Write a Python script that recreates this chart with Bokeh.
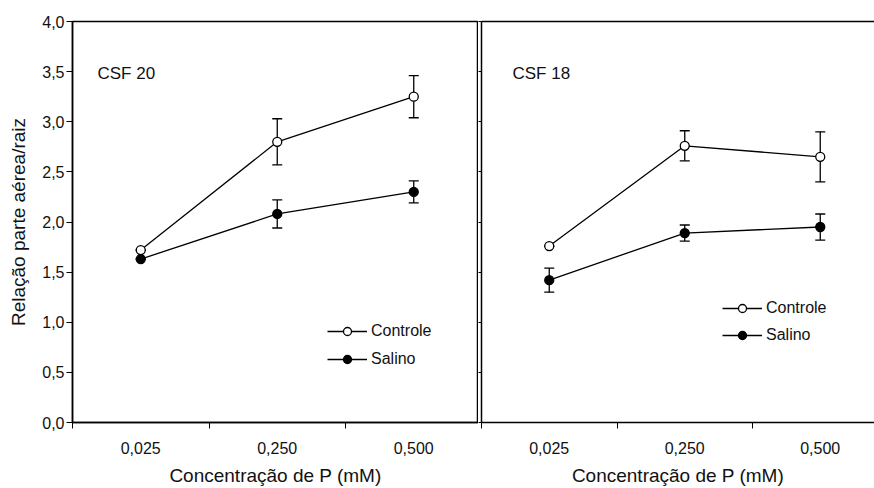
from bokeh.plotting import figure
from bokeh.layouts import row
from bokeh.models import (Range1d, FixedTicker, LinearAxis, Whisker, TeeHead,
                          ColumnDataSource, Legend, LegendItem, Label,
                          CustomLabelingPolicy)
from bokeh.embed import file_html
from bokeh.resources import INLINE

# ---------------- data ----------------
categories = ["0,025", "0,250", "0,500"]          # Concentração de P (mM)
series = ["Controle", "Salino"]

csf20_controle = [1.72, 2.80, 3.25]
csf20_controle_err = [0.0, 0.23, 0.21]
csf20_salino = [1.63, 2.08, 2.30]
csf20_salino_err = [0.0, 0.14, 0.11]

csf18_controle = [1.76, 2.76, 2.65]
csf18_controle_err = [0.0, 0.15, 0.25]
csf18_salino = [1.42, 1.89, 1.95]
csf18_salino_err = [0.12, 0.08, 0.13]

y_ticks = [0.0, 0.5, 1.0, 1.5, 2.0, 2.5, 3.0, 3.5, 4.0]
y_tick_labels = ["0,0", "0,5", "1,0", "1,5", "2,0", "2,5", "3,0", "3,5", "4,0"]

panels = [
    ("CSF 20", csf20_controle, csf20_controle_err, csf20_salino, csf20_salino_err),
    ("CSF 18", csf18_controle, csf18_controle_err, csf18_salino, csf18_salino_err),
]

FONT = "Liberation Sans"
TXT = "#111111"
x_pos = [i + 0.5 for i in range(len(categories))]
x_bounds = [float(i) for i in range(len(categories) + 1)]

hide_labels = CustomLabelingPolicy(code="""
for (const i of indices) { indices.unset(i) }
return indices
""")


def style_x_axis(ax):
    ax.ticker = FixedTicker(ticks=x_pos, minor_ticks=x_bounds)
    ax.major_label_overrides = {x: c for x, c in zip(x_pos, categories)}
    ax.major_tick_line_color = None
    ax.major_tick_out = 6
    ax.major_tick_in = 0
    ax.minor_tick_out = 6
    ax.minor_tick_in = 0
    ax.minor_tick_line_color = "black"
    ax.minor_tick_line_width = 1
    ax.major_label_standoff = 13
    ax.major_label_text_font = FONT
    ax.major_label_text_font_size = "16px"
    ax.major_label_text_color = TXT
    ax.axis_label = "Concentração de P (mM)"
    ax.axis_label_text_font = FONT
    ax.axis_label_text_font_size = "19px"
    ax.axis_label_text_font_style = "normal"
    ax.axis_label_text_color = TXT
    ax.axis_label_standoff = 8
    ax.axis_line_width = 1.5
    ax.axis_line_color = "black"


def make_panel(idx, name, ctrl, ctrl_err, sal, sal_err):
    first = idx == 0
    if first:
        width, mb_left, xr = 478, 72, 406 / 136.5
    else:
        width, mb_left, xr = 396, 3, 393 / 135.5
    p = figure(width=width, height=488, output_backend="svg", toolbar_location=None,
               x_range=Range1d(0, xr), y_range=Range1d(0, 4.0),
               min_border_left=mb_left, min_border_right=0,
               min_border_top=21, min_border_bottom=64,
               x_axis_type=None, y_axis_type=None)
    p.grid.visible = False
    p.background_fill_color = "white"
    p.border_fill_color = "white"

    # axes
    xa = LinearAxis()
    style_x_axis(xa)
    p.add_layout(xa, "below")

    ya = LinearAxis()
    ya.ticker = FixedTicker(ticks=y_ticks, minor_ticks=[])
    ya.major_tick_out = 6 if first else 3
    ya.major_tick_in = 0
    ya.axis_line_width = 1.5
    ya.major_tick_line_width = 1
    if first:
        ya.major_label_overrides = {t: l for t, l in zip(y_ticks, y_tick_labels)}
        ya.major_label_text_font = FONT
        ya.major_label_text_font_size = "16px"
        ya.major_label_text_color = TXT
        ya.major_label_standoff = 2
        ya.axis_label = "Relação parte aérea/raiz"
        ya.axis_label_text_font = FONT
        ya.axis_label_text_font_size = "19px"
        ya.axis_label_text_font_style = "normal"
        ya.axis_label_text_color = TXT
        ya.axis_label_standoff = 10
    else:
        ya.major_label_policy = hide_labels
        ya.major_label_text_font_size = "0px"
        ya.major_label_standoff = 0
    p.add_layout(ya, "left")

    if first:
        p.outline_line_color = "black"
        p.outline_line_width = 1.5
    else:
        p.outline_line_color = None
        top = LinearAxis(ticker=FixedTicker(ticks=[], minor_ticks=[]))
        top.major_tick_out = 0
        top.major_tick_in = 0
        top.major_label_standoff = 0
        top.major_label_text_font_size = "0px"
        top.axis_line_width = 1.5
        p.add_layout(top, "above")

    # series
    renderers = []
    for vals, errs, fill in ((ctrl, ctrl_err, "white"), (sal, sal_err, "black")):
        src = ColumnDataSource(dict(x=x_pos, y=vals,
                                    lo=[v - e for v, e in zip(vals, errs)],
                                    hi=[v + e for v, e in zip(vals, errs)]))
        w = Whisker(source=src, base="x", lower="lo", upper="hi",
                    line_color="black", line_width=1.3,
                    upper_head=TeeHead(size=10, line_width=1.3, line_color="black"),
                    lower_head=TeeHead(size=10, line_width=1.3, line_color="black"))
        p.add_layout(w)
        ln = p.line("x", "y", source=src, line_color="black", line_width=1.3)
        sc = p.scatter("x", "y", source=src, size=9, marker="circle",
                       fill_color=fill, line_color="black", line_width=1.3)
        renderers.append((ln, sc))

    items = [LegendItem(label=s, renderers=list(r)) for s, r in zip(series, renderers)]
    if first:
        loc, spacing = (255, 53), 8
    else:
        loc, spacing = (241, 77), 7
    leg = Legend(items=items, location=loc, orientation="vertical",
                 glyph_width=40, glyph_height=20, spacing=spacing,
                 padding=0, margin=0, border_line_color=None,
                 background_fill_alpha=0, label_standoff=4,
                 label_text_font=FONT, label_text_font_size="16px",
                 label_text_color=TXT)
    p.add_layout(leg, "center")

    lab = Label(x=25 if first else 31, y=349, x_units="screen", y_units="screen",
                text=name, text_font=FONT, text_font_size="17px",
                text_color=TXT, text_baseline="middle")
    p.add_layout(lab)
    return p


figs = [make_panel(i, *pan) for i, pan in enumerate(panels)]
layout = row(*figs, spacing=0)

open("out.html", "w").write(file_html(layout, INLINE))
